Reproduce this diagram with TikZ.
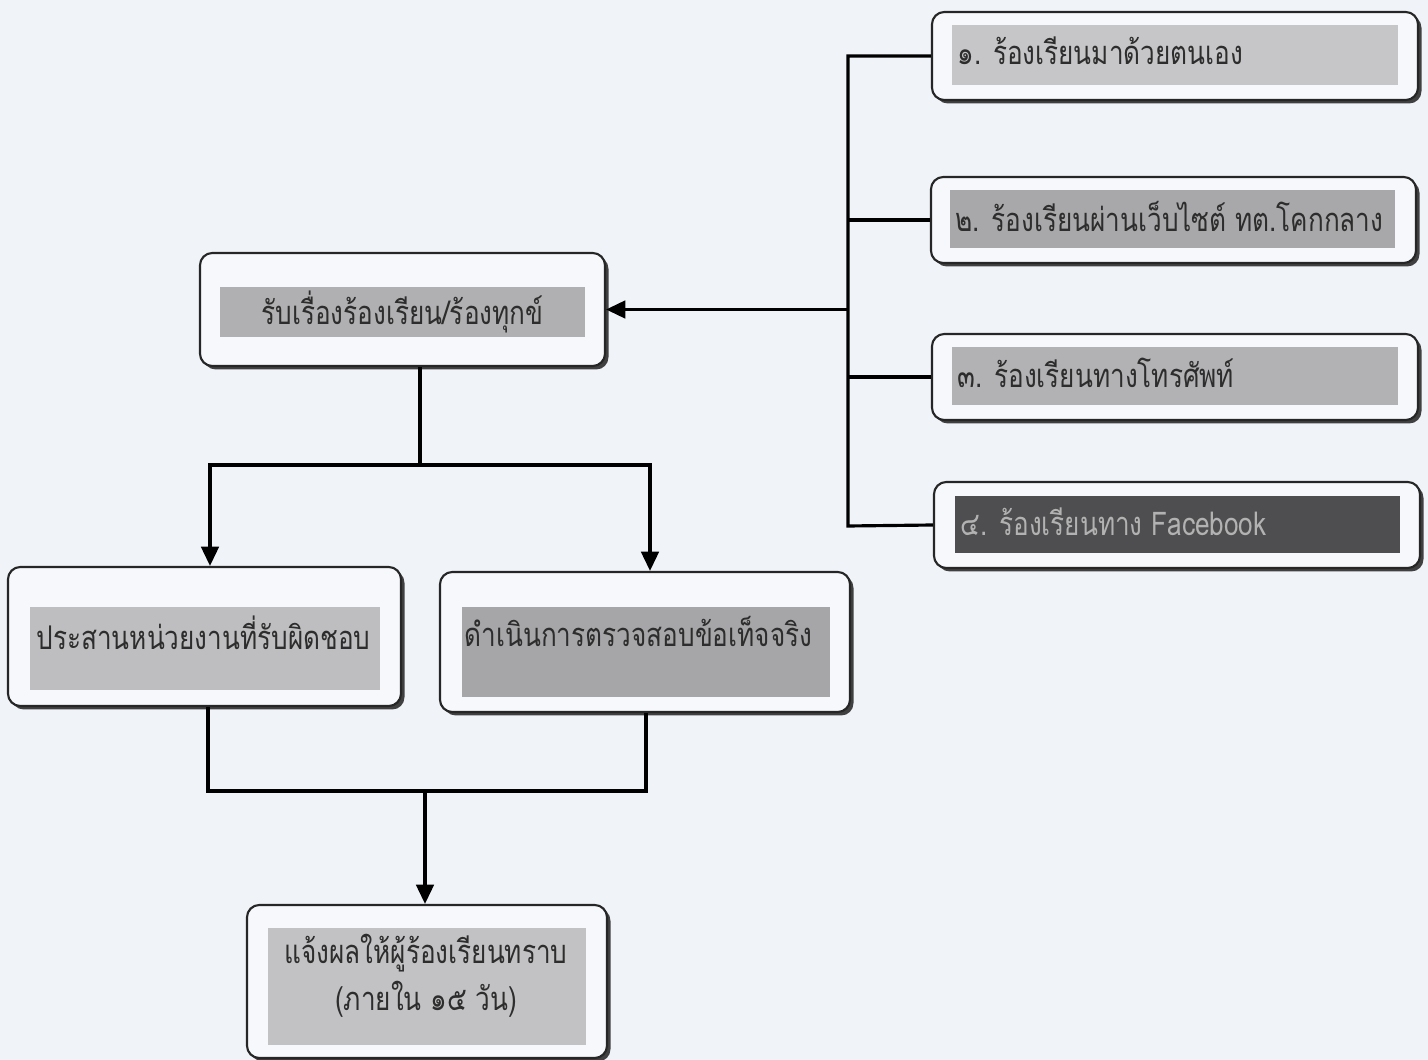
\documentclass[tikz,border=0pt]{standalone}
\usepackage{fontspec}
\newfontfamily\thaifont[Script=Thai,FakeStretch=0.8]{Loma}
\usepackage{tikz}
\usetikzlibrary{arrows.meta,shadows,positioning}
\definecolor{pagebg}{RGB}{240,243,248}
\definecolor{boxbg}{RGB}{246,248,252}
\definecolor{bandA}{RGB}{198,198,200}
\definecolor{bandB}{RGB}{168,168,170}
\definecolor{bandC}{RGB}{178,178,180}
\definecolor{bandD}{RGB}{78,78,80}
\definecolor{bandE}{RGB}{176,176,178}
\definecolor{bandF}{RGB}{190,190,192}
\definecolor{bandG}{RGB}{166,166,168}
\definecolor{bandH}{RGB}{194,194,196}
\definecolor{inktext}{RGB}{45,45,45}
\tikzstyle{outerbox} = [draw=black!85, line width=0.6pt, fill=boxbg, rounded corners=3.5pt,
  drop shadow={shadow xshift=0.035cm, shadow yshift=-0.035cm, fill=black!75, opacity=1}]
\tikzstyle{band} = [inner sep=0pt, draw=none]
\tikzstyle{label} = [inner sep=1pt, text=inktext, font=\thaifont\fontsize{9.3}{13.5}\selectfont]
\tikzstyle{conn} = [line width=0.9pt, black]
\tikzstyle{arr} = [conn, -{Triangle[length=5.5pt,width=5pt]}]

\begin{document}
\begin{tikzpicture}
\fill[pagebg] (0,0) rectangle (14.28,-10.60);
\useasboundingbox (0,0) rectangle (14.28,-10.60);

\node[outerbox, minimum width=4.86cm, minimum height=0.88cm] (c1) at (11.75,-0.56) {};
\node[band, fill=bandA, minimum width=4.46cm, minimum height=0.60cm] (b1) at (11.75,-0.55) {};
\node[label, anchor=west] at ([xshift=0.02cm,yshift=0.04cm]b1.west) {๑. ร้องเรียนมาด้วยตนเอง};

\node[outerbox, minimum width=4.85cm, minimum height=0.86cm] (c2) at (11.735,-2.20) {};
\node[band, fill=bandB, minimum width=4.45cm, minimum height=0.58cm] (b2) at (11.725,-2.19) {};
\node[label, anchor=west] at ([xshift=0.02cm,yshift=0.03cm]b2.west) {๒. ร้องเรียนผ่านเว็บไซต์ ทต.โคกกลาง};

\node[outerbox, minimum width=4.86cm, minimum height=0.86cm] (c3) at (11.75,-3.77) {};
\node[band, fill=bandC, minimum width=4.46cm, minimum height=0.58cm] (b3) at (11.75,-3.76) {};
\node[label, anchor=west] at ([xshift=0.02cm,yshift=0.03cm]b3.west) {๓. ร้องเรียนทางโทรศัพท์};

\node[outerbox, minimum width=4.86cm, minimum height=0.86cm] (c4) at (11.77,-5.25) {};
\node[band, fill=bandD, minimum width=4.45cm, minimum height=0.57cm] (b4) at (11.775,-5.245) {};
\node[label, anchor=west, text=black!30] at ([xshift=0.02cm,yshift=0.03cm]b4.west) {๔. ร้องเรียนทาง Facebook};

\node[outerbox, minimum width=4.05cm, minimum height=1.13cm] (recv) at (4.025,-3.095) {};
\node[band, fill=bandE, minimum width=3.65cm, minimum height=0.50cm] (b5) at (4.025,-3.12) {};
\node[label] at (b5) {รับเรื่องร้องเรียน/ร้องทุกข์};

\node[outerbox, minimum width=3.93cm, minimum height=1.39cm] (coord) at (2.045,-6.365) {};
\node[band, fill=bandF, minimum width=3.50cm, minimum height=0.83cm] (b6) at (2.05,-6.485) {};
\node[label] at (2.035,-6.33) {ประสานหน่วยงานที่รับผิดชอบ};

\node[outerbox, minimum width=4.10cm, minimum height=1.40cm] (check) at (6.45,-6.42) {};
\node[band, fill=bandG, minimum width=3.68cm, minimum height=0.90cm] (b7) at (6.46,-6.52) {};
\node[label] at (6.385,-6.31) {ดำเนินการตรวจสอบข้อเท็จจริง};

\node[outerbox, minimum width=3.60cm, minimum height=1.53cm] (notify) at (4.27,-9.815) {};
\node[band, fill=bandH, minimum width=3.18cm, minimum height=1.17cm] (b8) at (4.27,-9.865) {};
\node[label, align=center] at (4.26,-9.76) {แจ้งผลให้ผู้ร้องเรียนทราบ\\(ภายใน ๑๕ วัน)};

\coordinate (bustop) at (8.48,-0.56);
\coordinate (busbot) at (8.48,-5.26);
\draw[conn] (c1.west) -- (bustop) -- (busbot) -- (c4.west);
\draw[conn] (c2.west) -- (c2.west -| bustop);
\draw[conn] (c3.west) -- (c3.west -| bustop);
\draw[arr] (recv.east -| bustop) -- (recv.east);

\coordinate (split) at (4.20,-4.65);
\coordinate (sl) at (2.10,-4.65);
\coordinate (sr) at (6.50,-4.65);
\draw[conn] (split |- recv.south) -- (split);
\draw[arr] (sl) -- (sr) -- (sr |- check.north);
\draw[arr] (sr) -- (sl) -- (sl |- coord.north);

\coordinate (jl) at (2.08,-7.91);
\coordinate (jr) at (6.46,-7.91);
\coordinate (join) at (4.25,-7.91);
\draw[conn] (jl |- coord.south) -- (jl) -- (jr) -- (jr |- check.south);
\draw[arr] (join) -- (join |- notify.north);
\end{tikzpicture}
\end{document}
